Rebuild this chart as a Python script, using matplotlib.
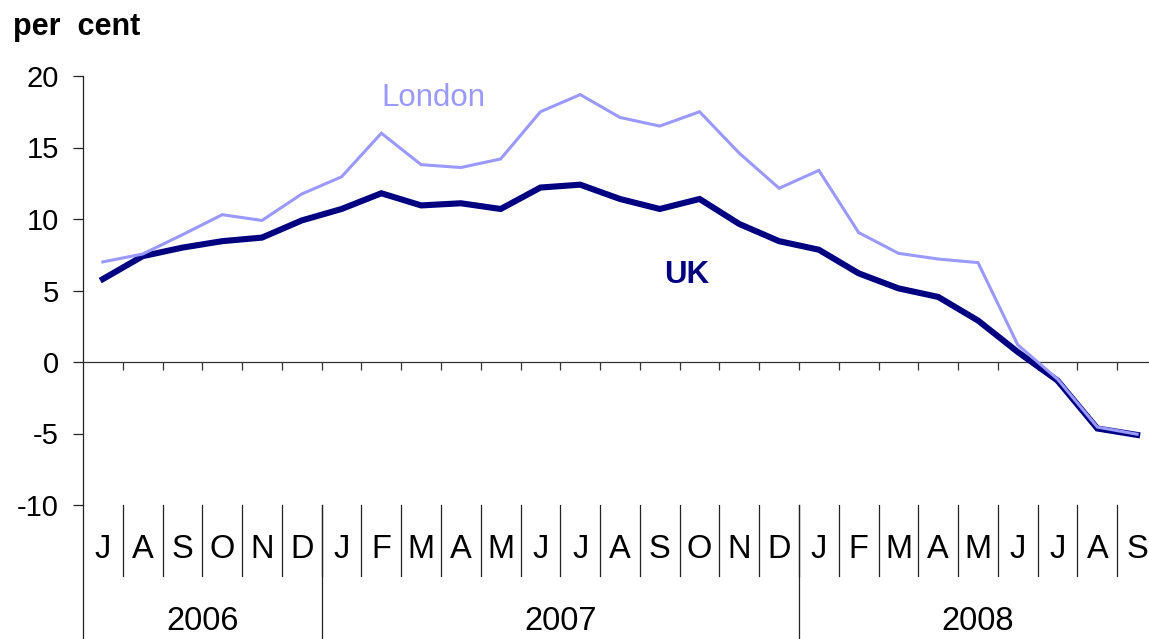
import matplotlib
matplotlib.use("Agg")
import matplotlib.pyplot as plt

plt.rcParams['font.family'] = ['Liberation Sans', 'DejaVu Sans']

months = ["J", "A", "S", "O", "N", "D",
          "J", "F", "M", "A", "M", "J", "J", "A", "S", "O", "N", "D",
          "J", "F", "M", "A", "M", "J", "J", "A", "S"]
years = ["2006", "2007", "2008"]
year_month_counts = [6, 12, 9]

uk = [5.8, 7.4, 8.0, 8.45, 8.7, 9.9,
      10.7, 11.8, 10.95, 11.1, 10.7, 12.2, 12.4, 11.4, 10.7, 11.4, 9.65, 8.45,
      7.85, 6.2, 5.15, 4.55, 2.9, 0.7, -1.3, -4.65, -5.1]
london = [7.0, 7.55, 8.9, 10.3, 9.9, 11.75,
          12.95, 16.0, 13.8, 13.6, 14.2, 17.5, 18.7, 17.1, 16.5, 17.5, 14.6, 12.15,
          13.4, 9.05, 7.6, 7.2, 6.95, 1.2, -1.2, -4.55, -5.05]
yticks = [-10, -5, 0, 5, 10, 15, 20]

W, H = 1149, 639
fig = plt.figure(figsize=(W / 100, H / 100), dpi=100)
ax_left, ax_right, ax_top, ax_bottom = 83, 1157, 76, 505
ax = fig.add_axes([ax_left / W, (H - ax_bottom) / H,
                   (ax_right - ax_left) / W, (ax_bottom - ax_top) / H])

x = list(range(len(months)))
ax.plot(x, uk, color='#000080', lw=4.4, solid_joinstyle='miter', zorder=3)
ax.plot(x, london, color='#9999FF', lw=2.2, solid_joinstyle='miter', zorder=4)

ax.set_xlim(-0.5, len(months) - 0.5)
ax.set_ylim(-10, 20)

for s in ['top', 'right']:
    ax.spines[s].set_visible(False)
ax.spines['bottom'].set_position(('data', 0))
ax.spines['bottom'].set_color('#333333')
ax.spines['bottom'].set_linewidth(0.9)
ax.spines['left'].set_color('#222222')
ax.spines['left'].set_linewidth(0.9)

ax.set_yticks(yticks)
ax.set_yticklabels([str(v) for v in yticks])
ax.tick_params(axis='y', direction='out', length=7, width=0.9, pad=10.5,
               labelsize=21, color='#222222')
bounds = [i + 0.5 for i in range(len(months))]
ax.set_xticks(bounds)
ax.set_xticklabels([''] * len(bounds))
ax.tick_params(axis='x', direction='out', length=5.8, width=0.9, color='#333333')

trans = ax.get_xaxis_transform()
axh = ax_bottom - ax_top
def fy(py):
    return -(py - ax_bottom) / axh

# left axis extension down to the bottom of the figure
ax.plot([-0.5, -0.5], [0, fy(H + 2)], transform=trans, color='#222222',
        lw=0.9, clip_on=False)

# month labels and separators
for i, m in enumerate(months):
    ax.text(i, fy(550), m, transform=trans, ha='center', va='center',
            fontsize=23.5)
for b in bounds[:-1]:
    ax.plot([b, b], [0, fy(576)], transform=trans, color='#222222', lw=0.9,
            clip_on=False)

# year labels and separators
start = -0.5
for yname, cnt in zip(years, year_month_counts):
    end = start + cnt
    ax.text((start + end) / 2, fy(621), yname, transform=trans, ha='center',
            va='center', fontsize=23.5)
    if end < len(months) - 0.5:
        ax.plot([end, end], [0, fy(H + 2)], transform=trans, color='#222222',
                lw=0.9, clip_on=False)
    start = end

ax.text(7.0, 17.9, 'London', color='#9999FF', fontsize=22.5, ha='left',
        va='baseline')
ax.text(14.12, 5.55, 'UK', color='#000080', fontsize=22.5, fontweight='bold',
        ha='left', va='baseline')

fig.text(13 / W, 1 - 35 / H, 'per  cent', fontsize=22, fontweight='bold',
         ha='left', va='baseline')

fig.savefig('out.png', dpi=100)
